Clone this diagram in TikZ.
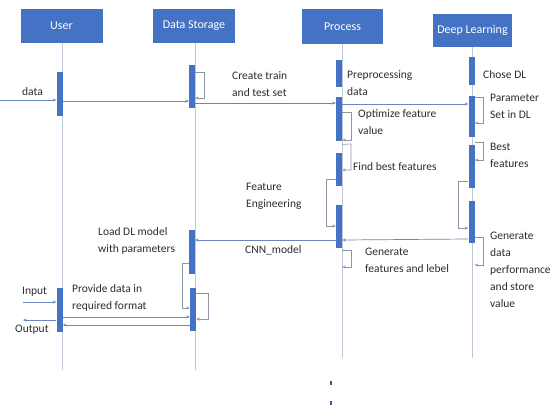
\documentclass[tikz,border=0pt]{standalone}
\usepackage{fontspec}
\setmainfont{Carlito}
\usetikzlibrary{arrows.meta}
\definecolor{hdr}{RGB}{68,114,196}
\definecolor{lifec}{RGB}{190,200,215}
\definecolor{msgc}{RGB}{105,135,190}
\definecolor{loopc}{RGB}{140,150,165}
\definecolor{txt}{RGB}{45,45,45}
\begin{document}
\begin{tikzpicture}[x=1pt,y=-1pt,
  head/.style={fill=hdr, draw=none, text=white, minimum width=82pt, minimum height=34pt, inner sep=0pt, font=\fontsize{12}{14}\selectfont},
  lifeln/.style={draw=lifec, line width=0.7pt},
  bar/.style={fill=hdr, draw=none, minimum width=6pt, inner sep=0pt, anchor=north},
  msg/.style={draw=msgc, line width=0.7pt, -{Stealth[length=3.5pt,width=3pt]}},
  selfl/.style={draw=loopc, line width=0.6pt, -{Stealth[length=3.5pt,width=3pt]}},
  lbl/.style={font=\fontsize{11.5}{17}\selectfont, align=left, anchor=west, text=txt, inner sep=0pt},
  dotm/.style={fill=hdr!80!black, draw=none, minimum width=2pt, minimum height=4pt, inner sep=0pt}]
\useasboundingbox[fill=white] (0,0) rectangle (553,410);

% headers
\node[head] (user) at (61.5,26) {User};
\node[head] (ds) at (194,26) {Data Storage};
\node[head, minimum width=81pt, minimum height=35pt] (proc) at (342.5,26.5) {Process};
\node[head, minimum width=79pt, minimum height=33pt] (dl) at (472.5,30.5) {Deep Learning};

% lifeline ends
\coordinate (endA) at (0,370);
\coordinate (endB) at (0,358);
\draw[lifeln] (user.south -| 62,0) -- (62,0 |- endA);
\draw[lifeln] (ds.south -| 195,0) -- (195,0 |- endA);
\draw[lifeln] (proc.south -| 342,0) -- (342,0 |- endB);
\draw[lifeln] (dl.south -| 472,0) -- (472,0 |- endB);

% activation bars
\node[bar, minimum height=44pt] (u1) at (59.5,72) {};
\node[bar, minimum height=44pt] (u2) at (59.5,288) {};
\node[bar, minimum height=43pt] (d1) at (192,65) {};
\node[bar, minimum height=44pt] (d2) at (192,230) {};
\node[bar, minimum height=43pt] (d3) at (193,288) {};
\node[bar, minimum height=27pt] (p1) at (339,60) {};
\node[bar, minimum height=44pt] (p2) at (339,97) {};
\node[bar, minimum height=33pt] (p3) at (339,153) {};
\node[bar, minimum height=43pt] (p4) at (339,205) {};
\node[bar, minimum height=28pt] (l1) at (471.5,57) {};
\node[bar, minimum height=41pt] (l2) at (471.5,96) {};
\node[bar, minimum height=43pt] (l3) at (471.5,145) {};
\node[bar, minimum height=42pt] (l4) at (471.5,201) {};

% free ends
\coordinate (dataIn) at (0,100);
\coordinate (inIn) at (23,302);
\coordinate (outEnd) at (23,320);

% messages
\draw[msg] (dataIn) -- (u1.west |- dataIn);
\draw[msg] (u1.east |- 0,101) -- (d1.west |- 0,101);
\draw[msg] (d1.east |- 0,103) -- (p2.west |- 0,103);
\draw[msg] (p2.east |- 0,104) -- (l2.west |- 0,104);
\draw[msg] (l4.west |- 0,239) -- (p4.east |- 0,240);
\draw[msg] (p4.west |- 0,240) -- (d2.east |- 0,240);
\draw[msg] (inIn) -- (u2.west |- inIn);
\draw[msg] (u2.west |- outEnd) -- (outEnd);
\draw[msg] (u2.east |- 0,317) -- (d3.west |- 0,317);
\draw[msg] (d3.west |- 0,325) -- (u2.east |- 0,325);

% self loops
\draw[selfl] (d1.east |- 0,72) -- (204,72) -- (204,98) -- (d1.east |- 0,98);
\draw[selfl] (p2.east |- 0,112) -- (351,112) -- (351,140) -- (p2.east |- 0,140);
\draw[selfl] (p2.south east) ++(0,3) -- (351,144) -- (351,170) -- (p3.east |- 0,170);
\draw[selfl] (p3.west |- 0,179) -- (326,179) -- (326,226) -- (p4.west |- 0,226);
\draw[selfl] (p4.east |- 0,250) -- (351,250) -- (351,267) -- (p4.east |- 0,267);
\draw[selfl] (l2.east |- 0,97) -- (483,97) -- (483,123) -- (l2.east |- 0,123);
\draw[selfl] (l2.east |- 0,142) -- (483,142) -- (483,160) -- (l3.east |- 0,160);
\draw[selfl] (l3.west |- 0,181) -- (458,181) -- (458,228) -- (l4.west |- 0,228);
\draw[selfl] (l4.east |- 0,237) -- (483,237) -- (483,265) -- (l4.east |- 0,265);
\draw[selfl] (d2.west |- 0,263) -- (182,263) -- (182,308) -- (d3.west |- 0,308);
\draw[selfl] (d3.east |- 0,293) -- (208,293) -- (208,319) -- (d3.east |- 0,319);

% labels
\node[lbl] (tdata) at (22,92) {data};
\node[lbl] (tcreate) at (232,84.5) {Create train\\and test set};
\node[lbl] (tpre) at (347,83.5) {Preprocessing\\data};
\node[lbl] (tchose) at (483,75) {Chose DL};
\node[lbl] (tparam) at (490,106) {Parameter\\Set in DL};
\node[lbl] (topt) at (358,122) {Optimize feature\\value};
\node[lbl] (tbest) at (490,155) {Best\\features};
\node[lbl] (tfind) at (353,167) {Find best features};
\node[lbl] (tfeat) at (246,196) {Feature\\Engineering};
\node[lbl] (tload) at (98,240.5) {Load DL model\\with parameters};
\node[lbl] (tcnn) at (245,250) {CNN\_model};
\node[lbl] (tgenf) at (365,260) {Generate\\features and lebel};
\node[lbl] (tgend) at (490,270) {Generate\\data\\performance\\and store\\value};
\node[lbl] (tinput) at (22,292) {Input};
\node[lbl] (toutput) at (15,330) {Output};
\node[lbl] (tprov) at (72,297.5) {Provide data in\\required format};

% dots
\node[dotm] (dot1) at (331,383) {};
\node[dotm] (dot2) at (331,403) {};
\end{tikzpicture}
\end{document}
